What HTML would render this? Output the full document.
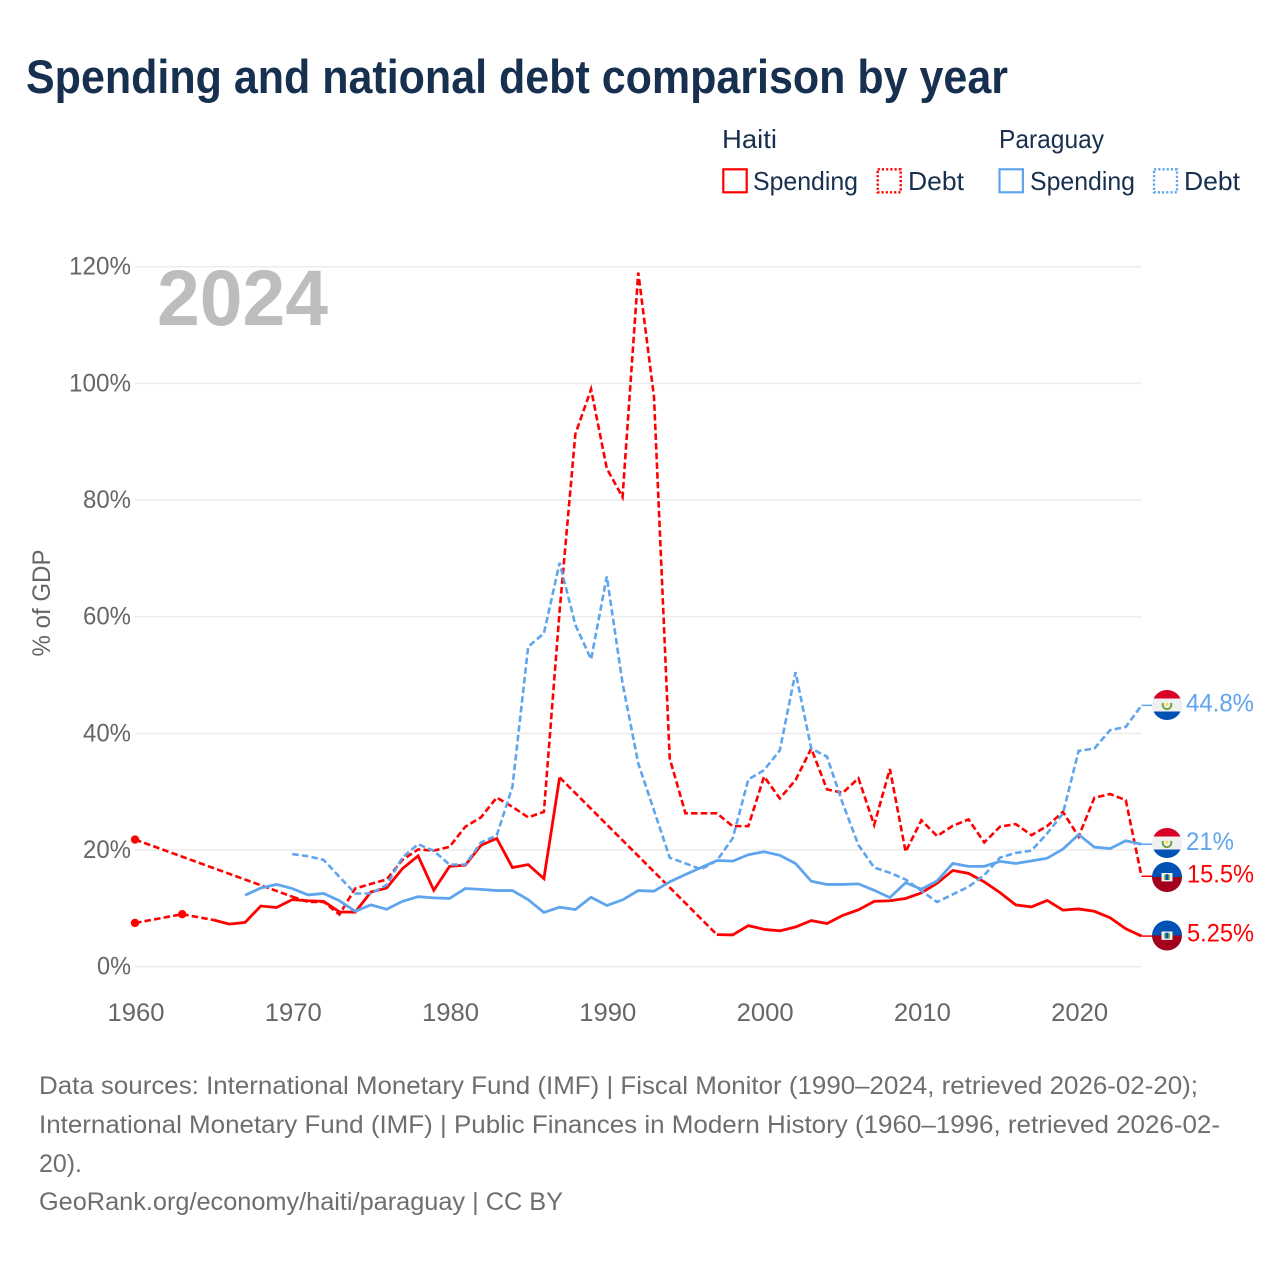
<!DOCTYPE html>
<html lang="en">
<head>
<meta charset="utf-8">
<title>Spending and national debt comparison by year</title>
<style>
html,body{margin:0;padding:0;background:#fff;}
svg{display:block;}
text{font-family:"Liberation Sans",sans-serif;}
.navy{fill:#18304f;}
.tick{fill:#666;font-size:25px;}
.foot{fill:#6e6e6e;font-size:25px;}
.val{font-size:25px;}
</style>
</head>
<body>
<svg id="chart" width="1280" height="1280" viewBox="0 0 1280 1280" xmlns="http://www.w3.org/2000/svg">
  <defs>
    <clipPath id="flag-clip"><circle cx="0" cy="0" r="15"/></clipPath>
    <g id="flag-paraguay">
      <g clip-path="url(#flag-clip)">
        <rect x="-15" y="-15" width="30" height="30" fill="#f0f0f0"/>
        <rect x="-15" y="-15" width="30" height="8.5" fill="#d80027"/>
        <rect x="-15" y="6.5" width="30" height="8.5" fill="#0052b4"/>
        <path d="M-3.9 -2 A4.3 4.3 0 1 0 3.9 -2" fill="none" stroke="#6da544" stroke-width="2"/>
        <circle cx="0" cy="-0.8" r="1.5" fill="#ffda44"/>
      </g>
    </g>
    <g id="flag-haiti">
      <g clip-path="url(#flag-clip)">
        <rect x="-15" y="-15" width="30" height="15" fill="#0052b4"/>
        <rect x="-15" y="0" width="30" height="15" fill="#a2001d"/>
        <rect x="-5.5" y="-4" width="11" height="8.4" fill="#f0f0f0"/>
        <rect x="-2.8" y="-2.4" width="5.6" height="5.4" fill="#6da544"/>
        <rect x="-1.2" y="-2.8" width="2.4" height="5.8" fill="#0052b4"/>
      </g>
    </g>
  </defs>

  <text x="26" y="93" font-size="47" font-weight="700" class="navy" textLength="982" lengthAdjust="spacingAndGlyphs">Spending and national debt comparison by year</text>

  <g>
    <text x="722" y="148" font-size="26" class="navy" textLength="55" lengthAdjust="spacingAndGlyphs">Haiti</text>
    <text x="999" y="148" font-size="26" class="navy" textLength="105" lengthAdjust="spacingAndGlyphs">Paraguay</text>

    <rect x="723.3" y="169.3" width="23.4" height="23" fill="none" stroke="#ff0000" stroke-width="2.2"/>
    <text x="753" y="190" font-size="26" class="navy" textLength="105" lengthAdjust="spacingAndGlyphs">Spending</text>
    <rect x="877.7" y="169.3" width="23" height="23" fill="none" stroke="#ff0000" stroke-width="2.4" stroke-dasharray="2.2 2"/>
    <text x="908" y="190" font-size="26" class="navy" textLength="56" lengthAdjust="spacingAndGlyphs">Debt</text>

    <rect x="999.5" y="169.3" width="23.4" height="23" fill="none" stroke="#5fa5ee" stroke-width="2.2"/>
    <text x="1030" y="190" font-size="26" class="navy" textLength="105" lengthAdjust="spacingAndGlyphs">Spending</text>
    <rect x="1154" y="169.3" width="23" height="23" fill="none" stroke="#5fa5ee" stroke-width="2.4" stroke-dasharray="2.2 2"/>
    <text x="1184" y="190" font-size="26" class="navy" textLength="56" lengthAdjust="spacingAndGlyphs">Debt</text>
  </g>

  <g id="grid"></g>
  <g id="yticks"></g>
  <g id="xticks"></g>

  <text x="157" y="325" font-size="79" font-weight="700" fill="#bdbdbd" textLength="171" lengthAdjust="spacingAndGlyphs">2024</text>
  <text class="tick" transform="translate(50,603) rotate(-90)" text-anchor="middle" textLength="107" lengthAdjust="spacingAndGlyphs">% of GDP</text>

  <g id="series"></g>

  <g>
    <use href="#flag-paraguay" x="1167" y="705"/>
    <text class="val" x="1186" y="711.5" fill="#5fa5ee" textLength="68" lengthAdjust="spacingAndGlyphs">44.8%</text>
    <use href="#flag-paraguay" x="1167" y="843"/>
    <text class="val" x="1186" y="850" fill="#5fa5ee" textLength="48" lengthAdjust="spacingAndGlyphs">21%</text>
    <use href="#flag-haiti" x="1167" y="877"/>
    <text class="val" x="1187" y="882.5" fill="#ff0000" textLength="67" lengthAdjust="spacingAndGlyphs">15.5%</text>
    <use href="#flag-haiti" x="1167" y="935.5"/>
    <text class="val" x="1187" y="941.5" fill="#ff0000" textLength="67" lengthAdjust="spacingAndGlyphs">5.25%</text>
  </g>

  <g>
    <text class="foot" x="39" y="1094" textLength="1159" lengthAdjust="spacingAndGlyphs">Data sources: International Monetary Fund (IMF) | Fiscal Monitor (1990–2024, retrieved 2026-02-20);</text>
    <text class="foot" x="39" y="1133" textLength="1181" lengthAdjust="spacingAndGlyphs">International Monetary Fund (IMF) | Public Finances in Modern History (1960–1996, retrieved 2026-02-</text>
    <text class="foot" x="39" y="1172" textLength="43" lengthAdjust="spacingAndGlyphs">20).</text>
    <text class="foot" x="39" y="1210" textLength="524" lengthAdjust="spacingAndGlyphs">GeoRank.org/economy/haiti/paraguay | CC BY</text>
  </g>
</svg>
<script>
var startYear = 1960;
var endYear = 2024;
var yTickValues = [0, 20, 40, 60, 80, 100, 120];
var xTickValues = [1960, 1970, 1980, 1990, 2000, 2010, 2020];
var haitiSpending = [
  7.5, null, null, 9.0, null, 8.0, 7.3, 7.6, 10.4, 10.15,
  11.5, 11.3, 11.2, 9.4, 9.35, 12.8, 13.5, 16.8, 19, 13.1,
  17.2, 17.4, 20.8, 22, 17, 17.5, 15.1, 32.45, null, null,
  null, null, null, null, null, null, null, 5.5, 5.45, 7.05,
  6.4, 6.15, 6.8, 7.9, 7.4, 8.8, 9.75, 11.2, 11.3, 11.7,
  12.65, 14.3, 16.5, 16, 14.55, 12.7, 10.6, 10.25, 11.35, 9.7,
  9.9, 9.5, 8.4, 6.5, 5.25
];
var haitiDebt = [
  21.8, null, null, null, null, null, null, null, null, null,
  12, 11.1, 11.1, 8.95, 13.4, 14.2, 14.95, 18.3, 20.1, 19.9,
  20.55, 24, 25.6, 29, 27.4, 25.6, 26.55, 61, 91.3, 99,
  85.4, 80.5, 119, 97.7, 35.7, 26.3, 26.3, 26.3, 24.1, 24.1,
  32.6, 28.85, 32, 37.4, 30.4, 29.8, 32.3, 24.3, 33.9, 19.7,
  25.1, 22.4, 24.15, 25.25, 21.3, 24, 24.45, 22.55, 24.1, 26.55,
  22.3, 28.95, 29.6, 28.55, 15.5
];
var paraguaySpending = [
  null, null, null, null, null, null, null, 12.25, 13.5, 14.1,
  13.4, 12.3, 12.55, 11.3, 9.5, 10.6, 9.85, 11.2, 12, 11.8,
  11.7, 13.4, 13.25, 13.05, 13.05, 11.5, 9.3, 10.2, 9.8, 11.9,
  10.5, 11.45, 13.05, 12.95, 14.55, 15.8, 17, 18.2, 18.1, 19.2,
  19.7, 19.1, 17.7, 14.65, 14.1, 14.1, 14.2, 13.1, 11.85, 14.4,
  13.3, 14.7, 17.7, 17.2, 17.2, 18.05, 17.7, 18.15, 18.6, 20.15,
  22.65, 20.5, 20.25, 21.6, 21
];
var paraguayDebt = [
  null, null, null, null, null, null, null, null, null, null,
  19.3, 18.95, 18.3, 15.4, 12.55, 12.55, 14, 18.7, 21, 19.85,
  17.5, 17.5, 21.3, 22.5, 30.85, 54.85, 57.15, 69.25, 58.6, 52.7,
  66.9, 48.6, 34.85, 26.8, 18.7, 17.7, 16.7, 18.2, 22, 32.1,
  33.7, 37.1, 50.5, 37.4, 36, 28, 20.85, 17, 16.1, 14.95,
  13, 11.1, 12.4, 13.7, 15.7, 18.7, 19.5, 19.9, 22.85, 26.25,
  37, 37.4, 40.55, 41.1, 44.8
];

var SVGNS = 'http://www.w3.org/2000/svg';
var RED = '#ff0000';
var BLUE = '#5fa5ee';
var DASH = '6.5 3.2';
function xScale(year) { return 135 + (year - 1960) * 15.727; }
function yScale(pct) { return 966.7 - pct * 5.8333; }
function make(tag, parent) {
  var el = document.createElementNS(SVGNS, tag);
  parent.appendChild(el);
  return el;
}
function pathFrom(points) {
  return points.map(function (p, i) {
    return (i ? 'L' : 'M') + xScale(p[0]).toFixed(2) + ' ' + yScale(p[1]).toFixed(2);
  }).join(' ');
}
function drawLine(parent, points, color, dashed, width, name) {
  var el = make('path', parent);
  el.setAttribute('d', pathFrom(points));
  el.setAttribute('fill', 'none');
  el.setAttribute('stroke', color);
  el.setAttribute('stroke-width', width);
  el.setAttribute('stroke-linejoin', 'miter');
  if (dashed) { el.setAttribute('stroke-dasharray', DASH); }
  
  
  return el;
}
function drawSeries(values, color, isDebt, name) {
  var parent = document.getElementById('series');
  var runs = [];
  var run = [];
  values.forEach(function (v, i) {
    if (v === null) {
      if (run.length) { runs.push(run); run = []; }
    } else {
      run.push([startYear + i, v]);
    }
  });
  if (run.length) { runs.push(run); }
  runs.forEach(function (r, idx) {
    if (idx > 0) {
      var prev = runs[idx - 1];
      drawLine(parent, [prev[prev.length - 1], r[0]], color, true, 2.6, name + '-gap');
    }
    if (r.length === 1) {
      var dot = make('circle', parent);
      dot.setAttribute('cx', xScale(r[0][0]));
      dot.setAttribute('cy', yScale(r[0][1]));
      dot.setAttribute('r', 4.2);
      dot.setAttribute('fill', color);
      
      
    } else {
      drawLine(parent, r, color, isDebt, isDebt ? 2.6 : 2.8, name + '-line');
    }
  });
  var lastVal = values[values.length - 1];
  var lead = make('line', parent);
  lead.setAttribute('x1', xScale(endYear));
  lead.setAttribute('y1', yScale(lastVal));
  lead.setAttribute('x2', 1153);
  lead.setAttribute('y2', yScale(lastVal));
  lead.setAttribute('stroke', color);
  lead.setAttribute('stroke-width', 1.5);
  
  
}

var gridG = document.getElementById('grid');
var yG = document.getElementById('yticks');
var xG = document.getElementById('xticks');
yTickValues.forEach(function (v) {
  var gl = make('line', gridG);
  gl.setAttribute('x1', 135);
  gl.setAttribute('x2', 1141.5);
  gl.setAttribute('y1', yScale(v));
  gl.setAttribute('y2', yScale(v));
  gl.setAttribute('stroke', '#ececec');
  gl.setAttribute('stroke-width', 1.5);
  
  
  var t = make('text', yG);
  t.setAttribute('class', 'tick');
  t.setAttribute('x', 131);
  t.setAttribute('y', yScale(v) + 8);
  t.setAttribute('text-anchor', 'end');
  var label = v + '%';
  t.setAttribute('textLength', label.length === 4 ? 62 : (label.length === 3 ? 48 : 34));
  t.setAttribute('lengthAdjust', 'spacingAndGlyphs');
  t.textContent = label;
  
  
});
xTickValues.forEach(function (y) {
  var t = make('text', xG);
  t.setAttribute('class', 'tick');
  t.setAttribute('x', xScale(y) + 1);
  t.setAttribute('y', 1021);
  t.setAttribute('text-anchor', 'middle');
  t.setAttribute('textLength', 57);
  t.setAttribute('lengthAdjust', 'spacingAndGlyphs');
  t.textContent = String(y);
  
  
});

drawSeries(haitiDebt, RED, true, 'haiti-debt');
drawSeries(haitiSpending, RED, false, 'haiti-spending');
drawSeries(paraguayDebt, BLUE, true, 'paraguay-debt');
drawSeries(paraguaySpending, BLUE, false, 'paraguay-spending');
</script>
</body>
</html>
